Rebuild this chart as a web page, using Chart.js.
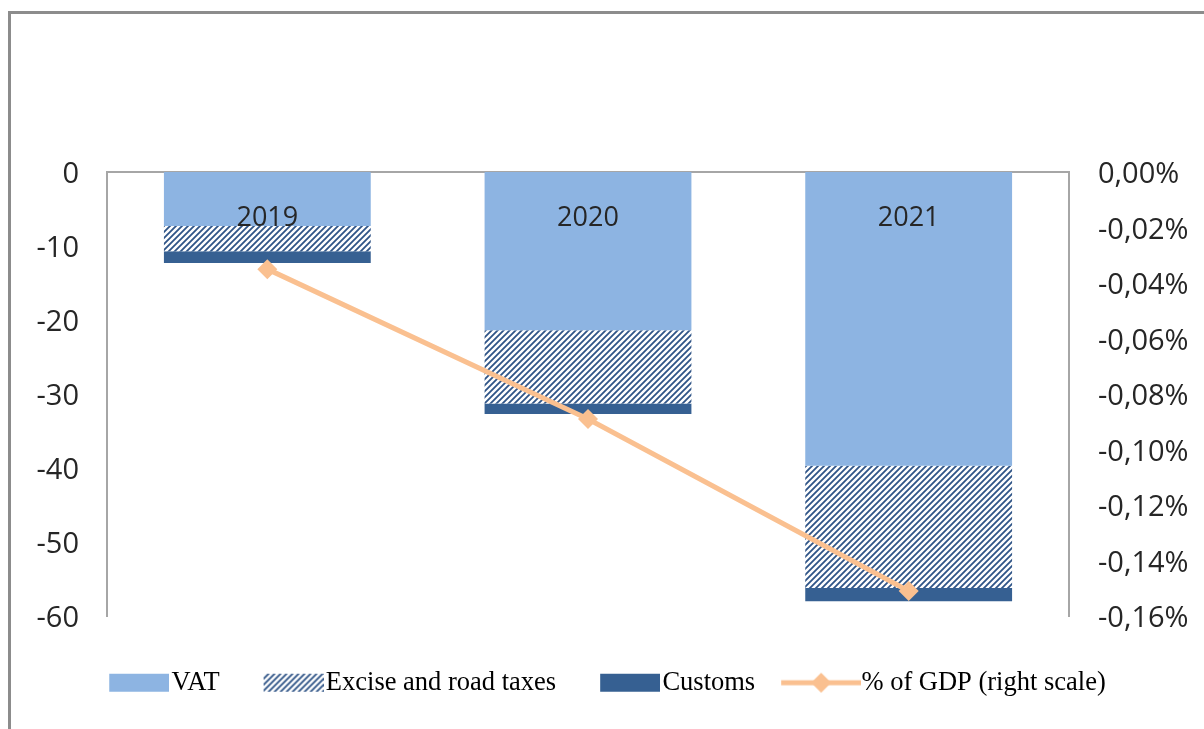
<!DOCTYPE html>
<html>
<head>
<meta charset="utf-8">
<script src="https://cdn.jsdelivr.net/npm/chart.js@4.4.1/dist/chart.umd.min.js"></script>
<style>
  html, body { margin: 0; padding: 0; background: #fff; overflow: hidden; }
  #wrap { position: relative; width: 1204px; height: 729px; }
  #frame {
    position: absolute; left: 8px; top: 11px; width: 1300px; height: 800px;
    border-left: 3px solid #8c8c8c; border-top: 3px solid #8c8c8c;
  }
  canvas { position: absolute; left: 0; top: 0; }
</style>
</head>
<body>
<div id="wrap">
  <div id="frame"></div>
  <canvas id="chart"></canvas>
</div>
<script>
//---------------------------------------
// Data
//---------------------------------------
const years = ['2019', '2020', '2021'];
const vat = [-7.3, -21.4, -39.7];
const excise = [-3.4, -9.9, -16.5];
const customs = [-1.6, -1.4, -1.8];
const gdpShare = [-0.035, -0.089, -0.151];   // % of GDP

const leftTicks = { min: -60, max: 0, step: 10 };
const rightTicks = { min: -0.16, max: 0, step: 0.02 };

//---------------------------------------
// Style
//---------------------------------------
const COL_VAT = '#8db4e2';
const COL_HATCH = '#2f5487';
const COL_CUSTOMS = '#366092';
const COL_LINE = '#fac090';
const COL_AXIS = '#a6a6a6';
const COL_TEXT = '#262626';
const SANS = '"Open Sans", sans-serif';

// 斜線パターン
function make_hatch() {
  const c = document.createElement('canvas');
  c.width = 6; c.height = 6;
  const g = c.getContext('2d');
  g.fillStyle = '#fff';
  g.fillRect(0, 0, 6, 6);
  g.strokeStyle = COL_HATCH;
  g.lineWidth = 1.8;
  g.beginPath();
  g.moveTo(-1, 7); g.lineTo(7, -1);
  g.moveTo(-4, 4); g.lineTo(4, -4);
  g.moveTo(2, 10); g.lineTo(10, 2);
  g.stroke();
  return g.createPattern(c, 'repeat');
}
const hatch = make_hatch();

// legend icons (box sits at the right end so the text follows closely)
function legend_box(fill) {
  const c = document.createElement('canvas');
  c.width = 78; c.height = 20;
  const g = c.getContext('2d');
  g.fillStyle = fill;
  g.fillRect(18, 1, 60, 18);
  return c;
}
function legend_line() {
  const c = document.createElement('canvas');
  c.width = 82; c.height = 24;
  const g = c.getContext('2d');
  g.strokeStyle = COL_LINE;
  g.lineWidth = 5;
  g.beginPath(); g.moveTo(2, 12); g.lineTo(82, 12); g.stroke();
  g.fillStyle = COL_LINE;
  g.beginPath();
  g.moveTo(42, 2); g.lineTo(52, 12); g.lineTo(42, 22); g.lineTo(32, 12);
  g.closePath(); g.fill();
  return c;
}
const legendIcons = [legend_box(COL_VAT), legend_box(hatch), legend_box(COL_CUSTOMS), legend_line()];

// カテゴリ名をバーの上に描画
const categoryLabels = {
  id: 'categoryLabels',
  afterDatasetsDraw(chart) {
    const ctx = chart.ctx;
    const xs = chart.scales.x;
    ctx.save();
    ctx.font = '27px ' + SANS;
    ctx.fillStyle = COL_TEXT;
    ctx.textAlign = 'center';
    ctx.textBaseline = 'middle';
    years.forEach((lbl, i) => {
      ctx.fillText(lbl, xs.getPixelForValue(i), chart.chartArea.top + 46);
    });
    ctx.restore();
  }
};

//---------------------------------------
// Chart
//---------------------------------------
const canvas = document.getElementById('chart');
canvas.width = 1204;
canvas.height = 729;

const tickFont = { family: SANS, size: 29 };

new Chart(canvas, {
  data: {
    labels: years,
    datasets: [
      { type: 'bar', label: 'VAT', data: vat, backgroundColor: COL_VAT, yAxisID: 'y', order: 1 },
      { type: 'bar', label: 'Excise and road taxes', data: excise, backgroundColor: hatch, yAxisID: 'y', order: 1 },
      { type: 'bar', label: 'Customs', data: customs, backgroundColor: COL_CUSTOMS, yAxisID: 'y', order: 1 },
      {
        type: 'line', label: '% of GDP (right scale)', data: gdpShare, yAxisID: 'y1', order: 0,
        borderColor: COL_LINE, backgroundColor: COL_LINE, borderWidth: 5, tension: 0,
        pointStyle: 'rectRot', pointRadius: 10, pointHoverRadius: 10,
        pointBackgroundColor: COL_LINE, pointBorderWidth: 0
      }
    ]
  },
  options: {
    responsive: false,
    animation: false,
    events: [],
    layout: { padding: { left: 20, right: 16, top: 172, bottom: 23 } },
    datasets: { bar: { categoryPercentage: 1, barPercentage: 0.645, borderWidth: 0 } },
    scales: {
      x: {
        position: 'top',
        stacked: true,
        grid: { display: false, drawTicks: false },
        border: { display: true, color: COL_AXIS, width: 2 },
        ticks: { display: false },
        afterFit: (scale) => { scale.height = 0; }
      },
      y: {
        position: 'left',
        stacked: true,
        min: leftTicks.min, max: leftTicks.max,
        grid: { display: false, drawTicks: false },
        border: { display: true, color: COL_AXIS, width: 2 },
        ticks: { stepSize: leftTicks.step, color: COL_TEXT, font: tickFont, padding: 28, labelOffset: 3 },
        afterFit: (scale) => { scale.width = 87; }
      },
      y1: {
        position: 'right',
        min: rightTicks.min, max: rightTicks.max,
        grid: { display: false, drawTicks: false },
        border: { display: true, color: COL_AXIS, width: 2 },
        ticks: {
          stepSize: rightTicks.step, color: COL_TEXT, font: tickFont, padding: 29, labelOffset: 3,
          callback: (v) => v.toFixed(2).replace('-0.00', '0.00').replace('.', ',') + '%'
        },
        afterFit: (scale) => { scale.width = 119; }
      }
    },
    plugins: {
      tooltip: { enabled: false },
      legend: {
        position: 'bottom',
        title: { display: true, text: ' ', font: { size: 10 }, padding: 2.25 },
        labels: {
          usePointStyle: true,
          pointStyleWidth: 56,
          boxHeight: 20,
          padding: 37,
          color: '#000',
          font: { family: '"Liberation Serif", "Times New Roman", serif', size: 26.5 },
          sort: (a, b) => a.datasetIndex - b.datasetIndex,
          generateLabels: (chart) => {
            const items = Chart.defaults.plugins.legend.labels.generateLabels(chart);
            items.forEach((it) => { it.pointStyle = legendIcons[it.datasetIndex]; it.rotation = 0; });
            return items;
          }
        }
      }
    }
  },
  plugins: [categoryLabels]
});
</script>
</body>
</html>
